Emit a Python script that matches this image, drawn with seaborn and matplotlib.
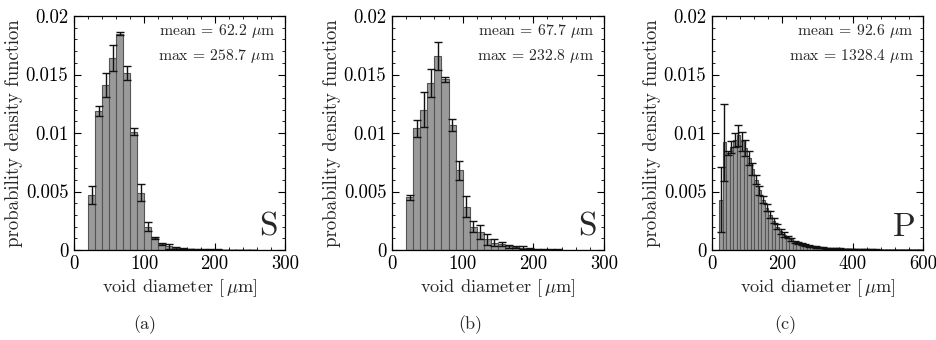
import numpy as np
import pandas as pd
import matplotlib
matplotlib.use("Agg")
import matplotlib.pyplot as plt
from matplotlib.ticker import MultipleLocator, FuncFormatter
import seaborn as sns

# ---------------- data ----------------
bin_width = 10

# panel (a): S
a_pdf = [0, 0, 0.0047, 0.0119, 0.0141, 0.0164, 0.0185, 0.0151, 0.0101, 0.0049,
         0.0020, 0.0010, 0.0005, 0.0003, 0.00015, 0.0001, 0.00008, 0.00005, 0.00004, 0.00003,
         0.00003, 0.00002, 0.00002, 0.00002, 0.00001, 0.00001, 0, 0, 0, 0]
a_err = [0, 0, 0.0008, 0.00045, 0.001, 0.0011, 0.0001, 0.0006, 0.0003, 0.0007,
         0.0004, 0.0001, 0.0001, 0.0002, 0.0001, 0.00005, 0.00003, 0.00003, 0.00002, 0.00002,
         0.00002, 0.00001, 0.00001, 0.00001, 0.00001, 0.00001, 0, 0, 0, 0]

# panel (b): S
b_pdf = [0, 0, 0.0045, 0.0104, 0.0120, 0.0143, 0.0166, 0.0146, 0.0107, 0.0068,
         0.0037, 0.0020, 0.0015, 0.0009, 0.0006, 0.0005, 0.0003, 0.00025, 0.0002, 0.0001,
         0.00005, 0.00005, 0.00004, 0.00003, 0, 0, 0, 0, 0, 0]
b_err = [0, 0, 0.0002, 0.0007, 0.0015, 0.0012, 0.0012, 0.0002, 0.0005, 0.0008,
         0.0009, 0.0005, 0.0006, 0.0005, 0.0003, 0.0002, 0.0001, 0.0001, 0.0001, 0.00005,
         0.00003, 0.00003, 0.00002, 0.00002, 0, 0, 0, 0, 0, 0]

# panel (c): P
c_pdf = [0, 0, 0.0043, 0.0092, 0.0083, 0.0088, 0.0094, 0.0098, 0.0093, 0.0087,
         0.0079, 0.0069, 0.0060, 0.0051, 0.0043, 0.0036, 0.0030, 0.0025, 0.0020, 0.0016,
         0.0013, 0.0011, 0.0009, 0.0007, 0.0006, 0.0005, 0.0004, 0.00035, 0.0003, 0.00025,
         0.0002, 0.00018, 0.00016, 0.00014, 0.00012, 0.00011, 0.0001, 0.00009, 0.00008, 0.00007,
         0.00006, 0.00006, 0.00005, 0.00005, 0.00004, 0.00004, 0.00004, 0.00003, 0.00003, 0.00003,
         0.00003, 0.00002, 0.00002, 0.00002, 0.00002, 0.00002, 0.00002, 0.00001, 0.00001, 0.00001]
c_err = [0, 0, 0.0028, 0.0033, 0.0002, 0.0005, 0.0006, 0.0009, 0.0008, 0.0007,
         0.0006, 0.0005, 0.0004, 0.0004, 0.0003, 0.0003, 0.0003, 0.0002, 0.0002, 0.0002,
         0.0002, 0.0001, 0.0001, 0.0001, 0.0001, 0.0001, 0.00008, 0.00008, 0.00006, 0.00006,
         0.00005, 0.00005, 0.00004, 0.00004, 0.00004, 0.00003, 0.00003, 0.00003, 0.00003, 0.00002,
         0.00002, 0.00002, 0.00002, 0.00002, 0.00002, 0.00002, 0.00001, 0.00001, 0.00001, 0.00001,
         0.00001, 0.00001, 0.00001, 0.00001, 0.00001, 0.00001, 0.00001, 0.00001, 0.00001, 0.00001]

means = [62.2, 67.7, 92.6]
maxes = [258.7, 232.8, 1328.4]
labels = ["S", "S", "P"]
subcaps = ["(a)", "(b)", "(c)"]
xmaxes = [300, 300, 600]
x_major = [100, 100, 200]
x_minor = [20, 20, 40]

# ---------------- style ----------------
sns.set_style("ticks")
plt.rcParams["font.family"] = ["cmr10", "DejaVu Serif"]
plt.rcParams["mathtext.fontset"] = "cm"
plt.rcParams["axes.formatter.use_mathtext"] = True
plt.rcParams["axes.unicode_minus"] = False

fig = plt.figure(figsize=(9.37, 3.40), dpi=100)
W, H = 937.0, 340.0
lefts = [74, 392, 712]
widths = [211, 212, 211]
top_px, bot_px = 16, 250

panels = [(a_pdf, a_err), (b_pdf, b_err), (c_pdf, c_err)]
subcap_x = [145, 470, 785]

for i, (pdf, err) in enumerate(panels):
    ax = fig.add_axes([lefts[i] / W, (H - bot_px) / H, widths[i] / W, (bot_px - top_px) / H])
    pdf = np.asarray(pdf, dtype=float)
    err = np.asarray(err, dtype=float)
    n = len(pdf)
    centers = np.arange(n) * bin_width + bin_width / 2
    df = pd.DataFrame({"d": centers, "p": pdf})
    sns.histplot(data=df, x="d", weights="p", binwidth=bin_width,
                 binrange=(0, n * bin_width), stat="count",
                 color="#9a9a9a", edgecolor="#555555", linewidth=0.8, alpha=1.0, ax=ax)
    m = err > 0
    ax.errorbar(centers[m], pdf[m], yerr=err[m], fmt="none", ecolor="#111111",
                elinewidth=1.0, capsize=2.8, capthick=1.0)

    ax.set_xlim(0, xmaxes[i])
    ax.set_ylim(0, 0.02)
    ax.xaxis.set_major_locator(MultipleLocator(x_major[i]))
    ax.xaxis.set_minor_locator(MultipleLocator(x_minor[i]))
    ax.yaxis.set_major_locator(MultipleLocator(0.005))
    ax.yaxis.set_minor_locator(MultipleLocator(0.001))
    ax.yaxis.set_major_formatter(FuncFormatter(lambda v, p: "%g" % round(v, 4)))
    ax.xaxis.set_major_formatter(FuncFormatter(lambda v, p: "%d" % v))
    ax.tick_params(which="both", direction="in", top=True, right=True,
                   labelsize=13.5, colors="black", pad=4)
    ax.tick_params(which="major", length=5, width=0.8)
    ax.tick_params(which="minor", length=2.5, width=0.6)
    for s in ax.spines.values():
        s.set_visible(True)
        s.set_color("black")
        s.set_linewidth(0.9)

    ax.set_xlabel(r"void diameter [$\,\mu$m]", fontsize=13.2, labelpad=3)
    ax.set_ylabel("probability density function", fontsize=13.5, labelpad=2)

    ax.text(0.955, 0.935, r"mean = %.1f $\mu$m" % means[i], transform=ax.transAxes,
            ha="right", va="center", fontsize=11.3)
    ax.text(0.955, 0.83, r"max = %.1f $\mu$m" % maxes[i], transform=ax.transAxes,
            ha="right", va="center", fontsize=11.3)
    ax.text(0.965, 0.035, labels[i], transform=ax.transAxes, ha="right", va="bottom",
            fontsize=24)

    fig.text(subcap_x[i] / W, 15 / H, subcaps[i], ha="center", va="center", fontsize=13)

fig.savefig("out.png", dpi=100)
